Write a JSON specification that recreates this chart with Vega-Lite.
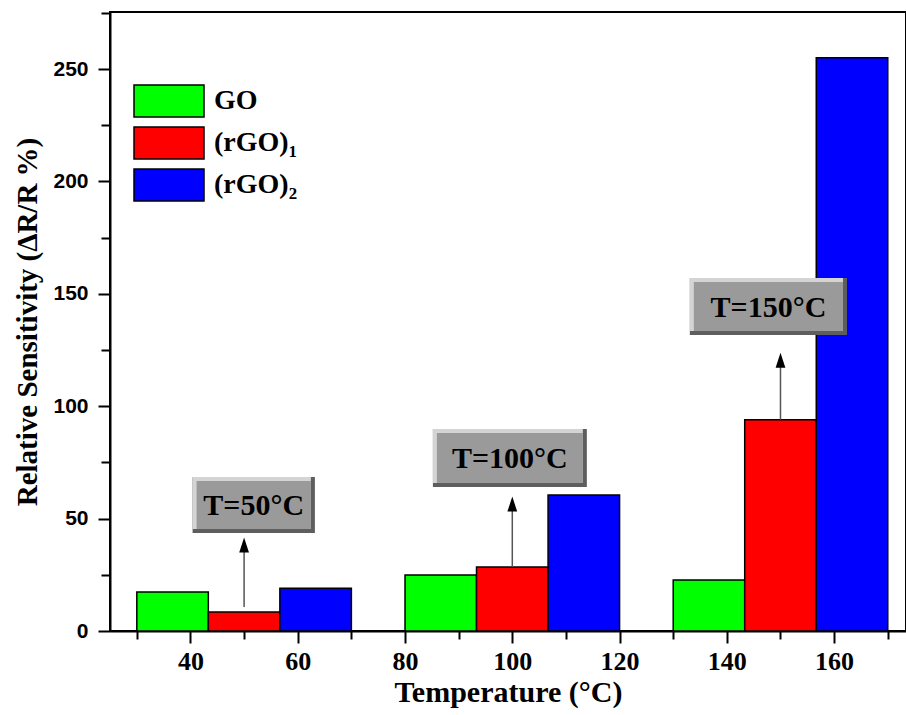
{
  "$schema": "https://vega.github.io/schema/vega-lite/v6.json",
  "width": 796,
  "height": 619,
  "autosize": "none",
  "padding": {"left": 110, "top": 12, "right": 0, "bottom": 84},
  "background": "white",
  "config": {"view": {"stroke": "black", "strokeWidth": 2}},
  "datasets": {
    "bars": [
      {"temp": "50", "series": "GO", "x0": 30, "x1": 43.33, "value": 17.3},
      {"temp": "50", "series": "(rGO)₁", "x0": 43.33, "x1": 56.67, "value": 8.5},
      {"temp": "50", "series": "(rGO)₂", "x0": 56.67, "x1": 70, "value": 19},
      {"temp": "100", "series": "GO", "x0": 80, "x1": 93.33, "value": 24.9},
      {"temp": "100", "series": "(rGO)₁", "x0": 93.33, "x1": 106.67, "value": 28.5},
      {"temp": "100", "series": "(rGO)₂", "x0": 106.67, "x1": 120, "value": 60.5},
      {"temp": "150", "series": "GO", "x0": 130, "x1": 143.33, "value": 22.7},
      {"temp": "150", "series": "(rGO)₁", "x0": 143.33, "x1": 156.67, "value": 94},
      {"temp": "150", "series": "(rGO)₂", "x0": 156.67, "x1": 170, "value": 255}
    ],
    "notes": [
      {"label": "T=50°C", "bx0": 40.4, "bx1": 63.2, "by0": 43.6, "by1": 68.5, "ax": 50, "abase": 10.7, "atip": 38.3},
      {"label": "T=100°C", "bx0": 85.2, "bx1": 113.9, "by0": 64.1, "by1": 89.9, "ax": 100, "abase": 28.5, "atip": 56.5},
      {"label": "T=150°C", "bx0": 133.1, "bx1": 162.4, "by0": 131.7, "by1": 157, "ax": 150, "abase": 94, "atip": 120.5}
    ]
  },
  "layer": [
    {
      "data": {"name": "bars"},
      "mark": {"type": "bar", "stroke": "black", "strokeWidth": 1.5, "opacity": 1},
      "encoding": {
        "x": {
          "field": "x0", "type": "quantitative",
          "scale": {"domain": [25, 173.4], "nice": false, "zero": false},
          "axis": {
            "values": [30, 40, 50, 60, 70, 80, 90, 100, 110, 120, 130, 140, 150, 160, 170],
            "labelExpr": "datum.value % 20 === 0 && datum.value >= 40 && datum.value <= 160 ? datum.label : ''",
            "tickSize": {"condition": {"test": "datum.value % 20 === 0", "value": 12}, "value": 8},
            "tickColor": "black", "tickWidth": 2,
            "domainColor": "black", "domainWidth": 2,
            "grid": false,
            "labelFont": "Liberation Sans Narrow", "labelFontWeight": "bold", "labelFontSize": 26,
            "labelColor": "black", "labelPadding": 5, "labelFlush": false,
            "title": "Temperature (°C)",
            "titleFont": "Liberation Serif", "titleFontSize": 30, "titleFontWeight": "bold",
            "titleColor": "black", "titlePadding": 3
          }
        },
        "x2": {"field": "x1"},
        "y": {
          "field": "value", "type": "quantitative",
          "scale": {"domain": [0, 275.4], "nice": false},
          "axis": {
            "values": [0, 25, 50, 75, 100, 125, 150, 175, 200, 225, 250, 275],
            "labelExpr": "datum.value % 50 === 0 ? datum.label : ''",
            "tickSize": {"condition": {"test": "datum.value % 50 === 0", "value": 12}, "value": 9},
            "tickColor": "black", "tickWidth": 2,
            "domainColor": "black", "domainWidth": 2,
            "grid": false,
            "labelFont": "Liberation Sans", "labelFontWeight": "bold", "labelFontSize": 21,
            "labelColor": "black", "labelPadding": 10, "labelFlush": false,
            "title": "Relative Sensitivity (ΔR/R %)",
            "titleFont": "Liberation Serif", "titleFontSize": 29, "titleFontWeight": "bold",
            "titleColor": "black", "titlePadding": 10
          }
        },
        "y2": {"datum": 0},
        "color": {
          "field": "series", "type": "nominal",
          "scale": {"domain": ["GO", "(rGO)₁", "(rGO)₂"], "range": ["#00ff00", "#ff0000", "#0000ff"]},
          "legend": {
            "orient": "none", "legendX": 40.5, "legendY": 70.5,
            "title": null, "padding": 0,
            "symbolType": "M-2,-0.914L2,-0.914L2,0.914L-2,0.914Z",
            "symbolSize": 1225, "symbolStrokeColor": "black", "symbolStrokeWidth": 1.5,
            "symbolOpacity": 1,
            "labelFont": "Liberation Serif", "labelFontWeight": "bold", "labelFontSize": 28,
            "labelColor": "black", "labelOffset": 26.5, "rowPadding": 3
          }
        }
      }
    },
    {
      "data": {"name": "notes"},
      "mark": {"type": "rule", "color": "#555555", "strokeWidth": 1.5},
      "encoding": {
        "x": {"field": "ax", "type": "quantitative"},
        "y": {"field": "abase", "type": "quantitative"},
        "y2": {"field": "atip"}
      }
    },
    {
      "data": {"name": "notes"},
      "mark": {"type": "point", "shape": "M0,-1L0.65,1L-0.65,1Z", "size": 225, "filled": true, "color": "black", "opacity": 1},
      "encoding": {
        "x": {"field": "ax", "type": "quantitative"},
        "y": {"field": "atip", "type": "quantitative"}
      }
    },
    {
      "data": {"name": "notes"},
      "mark": {"type": "rect", "fill": "#5e5e5e"},
      "encoding": {
        "x": {"field": "bx0", "type": "quantitative"},
        "x2": {"field": "bx1"},
        "y": {"field": "by0", "type": "quantitative"},
        "y2": {"field": "by1"}
      }
    },
    {
      "data": {"name": "notes"},
      "mark": {"type": "rect", "fill": "#d4d4d4", "x2Offset": -4, "yOffset": -4},
      "encoding": {
        "x": {"field": "bx0", "type": "quantitative"},
        "x2": {"field": "bx1"},
        "y": {"field": "by0", "type": "quantitative"},
        "y2": {"field": "by1"}
      }
    },
    {
      "data": {"name": "notes"},
      "mark": {"type": "rect", "fill": "#9a9a9a", "xOffset": 4, "x2Offset": -4, "yOffset": -4, "y2Offset": 4},
      "encoding": {
        "x": {"field": "bx0", "type": "quantitative"},
        "x2": {"field": "bx1"},
        "y": {"field": "by0", "type": "quantitative"},
        "y2": {"field": "by1"}
      }
    },
    {
      "data": {"name": "notes"},
      "transform": [
        {"calculate": "(datum.bx0 + datum.bx1) / 2", "as": "tx"},
        {"calculate": "(datum.by0 + datum.by1) / 2", "as": "ty"}
      ],
      "mark": {"type": "text", "font": "Liberation Serif", "fontWeight": "bold", "fontSize": 30, "color": "black", "align": "center", "baseline": "middle", "dy": 1},
      "encoding": {
        "x": {"field": "tx", "type": "quantitative"},
        "y": {"field": "ty", "type": "quantitative"},
        "text": {"field": "label"}
      }
    }
  ]
}
